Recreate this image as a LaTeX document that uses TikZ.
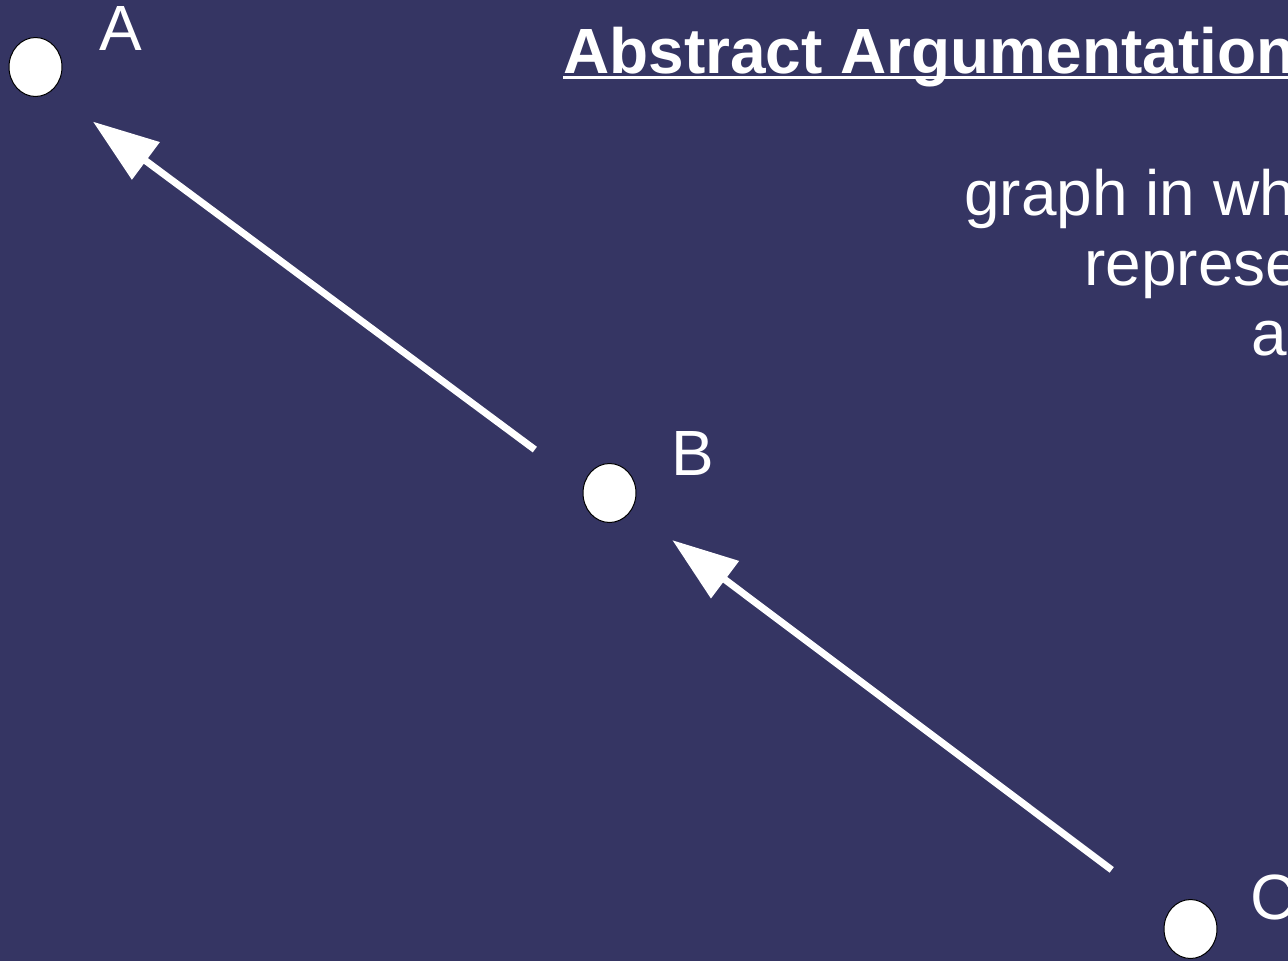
\documentclass[tikz,border=0pt]{standalone}
\usepackage{fontspec}
\setmainfont{Liberation Sans}
\usepackage{tikz}
\usetikzlibrary{arrows.meta,shapes.geometric}
\definecolor{slidebg}{RGB}{53,53,99}

\begin{document}
\begin{tikzpicture}[
      x=0.02cm, y=-0.02cm,
      arg/.style = {ellipse, draw=black, line width=0.02cm, fill=white,
                    minimum width=1.06cm, minimum height=1.18cm, inner sep=0pt},
      lbl/.style = {text=white, inner sep=0pt, anchor=base west,
                    font=\fontsize{36.4pt}{40pt}\selectfont},
      arr/.style = {-{Triangle[length=1.32cm, width=0.9cm]}, white,
                    line width=0.14cm},
    ]
    \useasboundingbox (0,0) rectangle (1288,961);
    \fill[slidebg] (0,0) rectangle (1288,961);
    \clip (0,0) rectangle (1288,961);

    \node[arg] (A) at (35.5,67) {};
    \node[arg] (B) at (609.5,493) {};
    \node[arg] (C) at (1190.5,929) {};

    \node[lbl] (lA) at (99,50) {A};
    \node[lbl] (lB) at (671,475) {B};
    \node[lbl] (lC) at (1250,919) {C};

    \node[lbl, font=\fontsize{36.4pt}{40pt}\selectfont\bfseries] (title) at (563,73)
      {Abstract Argumentation};
    \draw[white, line width=0.06cm] ([yshift=-0.09cm]title.base west)
      -- ([yshift=-0.09cm]title.base east);

    \node[lbl] (line1) at (964,215) {graph in wh};
    \node[lbl] (line2) at (1084,285) {represe};
    \node[lbl] (line3) at (1251,355) {a};

    \draw[arr, shorten <=1.86cm, shorten >=1.43cm]
      ([yshift=-0.24cm]B.center) -- ([yshift=-0.24cm]A.center);
    \draw[arr, shorten <=1.97cm, shorten >=1.57cm] (C.center) -- (B.center);
  \end{tikzpicture}
\end{document}
